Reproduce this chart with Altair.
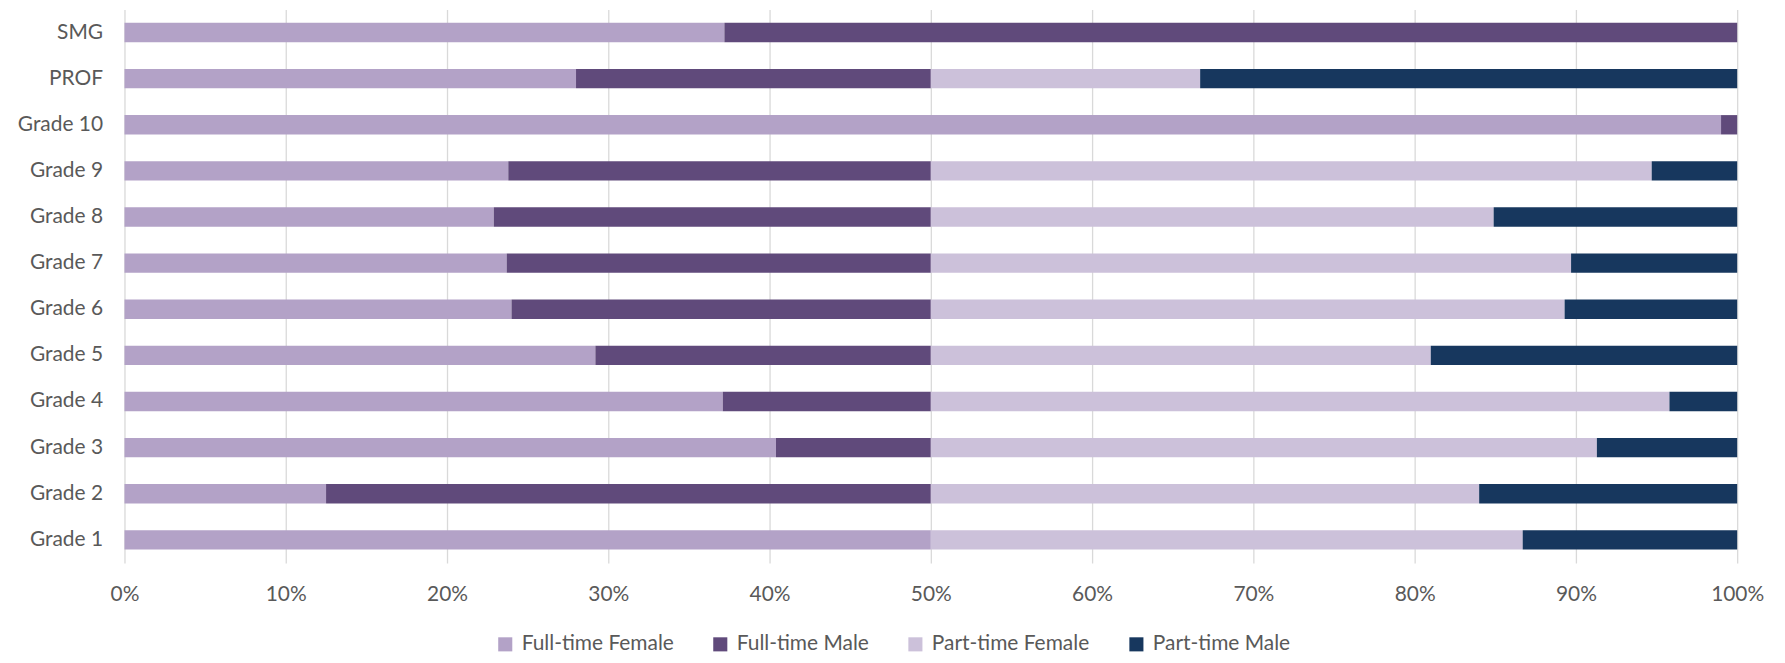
import altair as alt
import pandas as pd

categories = ["SMG", "PROF", "Grade 10", "Grade 9", "Grade 8", "Grade 7",
              "Grade 6", "Grade 5", "Grade 4", "Grade 3", "Grade 2", "Grade 1"]
series = ["Full-time Female", "Full-time Male", "Part-time Female", "Part-time Male"]
colors = ["#b3a2c7", "#604a7b", "#ccc1da", "#17375e"]

full_time_female = [37.2, 28.0, 99.0, 23.8, 22.9, 23.7, 24.0, 29.2, 37.1, 40.4, 12.5, 50.0]
full_time_male   = [62.8, 22.0, 1.0, 26.2, 27.1, 26.3, 26.0, 20.8, 12.9, 9.6, 37.5, 0.0]
part_time_female = [0.0, 16.7, 0.0, 44.7, 34.9, 39.7, 39.3, 31.0, 45.8, 41.3, 34.0, 36.7]
part_time_male   = [0.0, 33.3, 0.0, 5.3, 15.1, 10.3, 10.7, 19.0, 4.2, 8.7, 16.0, 13.3]

values = [full_time_female, full_time_male, part_time_female, part_time_male]
rows = []
for si, (s, vals) in enumerate(zip(series, values)):
    for c, v in zip(categories, vals):
        rows.append({"category": c, "series": s, "order": si, "value": v})
df = pd.DataFrame(rows)

font = "Lato"
txt = "#595959"

chart = alt.Chart(df).mark_bar().encode(
    y=alt.Y("category:N", sort=categories, title=None,
            scale=alt.Scale(paddingInner=0.58, paddingOuter=0.29),
            axis=alt.Axis(domain=False, ticks=False, grid=False, labelPadding=22,
                          labelFontSize=21, labelFont=font, labelColor=txt)),
    x=alt.X("value:Q", stack="normalize", title=None,
            scale=alt.Scale(domain=[0, 1], nice=False),
            axis=alt.Axis(format=".0%", values=[i / 10 for i in range(11)],
                          domain=False, ticks=False, grid=True, gridColor="#d9d9d9",
                          gridWidth=1.3, labelPadding=21, labelFontSize=21,
                          labelFlush=False,
                          labelFont=font, labelColor=txt)),
    color=alt.Color("series:N", sort=series,
                    scale=alt.Scale(domain=series, range=colors),
                    legend=alt.Legend(title=None, orient="none", direction="horizontal",
                                      legendX=372, legendY=627, symbolType="square",
                                      symbolSize=200, symbolStrokeWidth=0,
                                      labelFontSize=21, labelFont=font, labelColor=txt,
                                      columnPadding=36, labelOffset=6)),
    order=alt.Order("order:Q"),
).properties(
    width=1620, height=556,
    autosize=alt.AutoSizeParams(type="none"),
    padding={"left": 117, "top": 0, "right": 40, "bottom": 95},
).configure_view(stroke=None)

chart.save("out.html", embed_options={"renderer": "svg", "actions": False})
